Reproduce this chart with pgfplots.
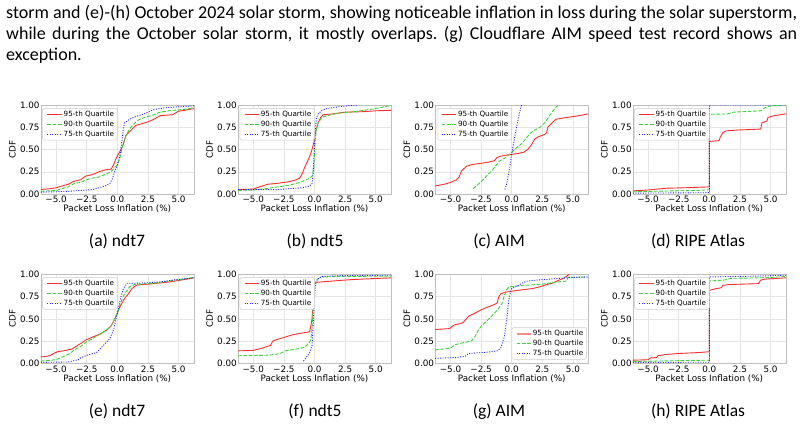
\documentclass[border=0pt]{standalone}
\usepackage{fontspec}
\usepackage{pgfplots}
\pgfplotsset{compat=1.18}
\newfontfamily\plotfont{DejaVu Sans}
\newfontfamily\capfont{Carlito}
\definecolor{qred}{RGB}{255,45,45}
\definecolor{qgreen}{RGB}{60,210,60}
\definecolor{qblue}{RGB}{35,35,255}

\pgfplotsset{
  cdfax/.style={
    scale only axis, width=153pt, height=89pt, anchor=south west,
    xmin=-6.25, xmax=6.25, ymin=0, ymax=1,
    xtick={-5,-2.5,0,2.5,5}, xticklabels={−5.0,−2.5,0.0,2.5,5.0},
    ytick={0,0.25,0.5,0.75,1}, yticklabels={0.00,0.25,0.50,0.75,1.00},
    major tick length=0pt,
    tick label style={font=\plotfont\fontsize{8.8}{9}\selectfont},
    xticklabel style={inner ysep=2pt},
    yticklabel style={inner xsep=1pt},
    grid=major, major grid style={black!10, line width=0.5pt},
    axis line style={black!25, line width=0.6pt},
    xlabel={Packet Loss Inflation (\%)}, ylabel={CDF},
    label style={font=\plotfont\fontsize{8.8}{9}\selectfont},
    xlabel style={at={(axis description cs:0.5,0)}, anchor=base, yshift=-17.7pt},
    ylabel style={at={(axis description cs:0,0.5)}, anchor=center, yshift=28.4pt},
  },
}
\tikzset{
  q95/.style={qred, line width=0.9pt},
  q90/.style={qgreen, line width=0.9pt, dash pattern=on 3.7pt off 1.6pt},
  q75/.style={qblue, line width=0.9pt, dash pattern=on 1pt off 1.5pt},
  legbox/.style={black!20, line width=0.5pt, fill=white, rounded corners=1.5pt},
  legtext/.style={anchor=west, inner sep=0pt, font=\plotfont\fontsize{7.2}{8}\selectfont},
}

% key in the upper left corner of a panel; #1 = share of the series colour (own tint per panel)
\newcommand\keyTL[1][100]{%
  \draw[legbox] ([shift={(1.9pt,-3.3pt)}]rel axis cs:0,1) rectangle ([shift={(76.5pt,-35pt)}]rel axis cs:0,1);
  \addplot[q95, qred!#1!white, forget plot] coordinates {(-5.719,0.8955) (-4.5425,0.8955)};
  \addplot[q90, qgreen!#1!white, forget plot] coordinates {(-5.719,0.7843) (-4.5425,0.7843)};
  \addplot[q75, qblue!#1!white, forget plot] coordinates {(-5.719,0.6730) (-4.5425,0.6730)};
  \node[legtext] at ([shift={(22.7pt,-9.3pt)}]rel axis cs:0,1) {95-th Quartile};
  \node[legtext] at ([shift={(22.7pt,-19.2pt)}]rel axis cs:0,1) {90-th Quartile};
  \node[legtext] at ([shift={(22.7pt,-29.1pt)}]rel axis cs:0,1) {75-th Quartile};
}
% key in the lower right corner of a panel
\newcommand\keyBR[1][100]{%
  \draw[legbox] ([shift={(-76.3pt,35.7pt)}]rel axis cs:1,0) rectangle ([shift={(-1.7pt,4pt)}]rel axis cs:1,0);
  \addplot[qred!55, line width=2pt, forget plot] coordinates {(0.392,0.3326) (1.569,0.3326)};
  \addplot[q90, qgreen!#1!white, forget plot] coordinates {(0.392,0.2213) (1.569,0.2213)};
  \addplot[q75, qblue!#1!white, forget plot] coordinates {(0.392,0.1101) (1.569,0.1101)};
  \node[legtext] at ([shift={(-55.5pt,29.6pt)}]rel axis cs:1,0) {95-th Quartile};
  \node[legtext] at ([shift={(-55.5pt,19.7pt)}]rel axis cs:1,0) {90-th Quartile};
  \node[legtext] at ([shift={(-55.5pt,9.8pt)}]rel axis cs:1,0) {75-th Quartile};
}

\begin{document}
\frenchspacing
\begin{tikzpicture}
\path[use as bounding box] (0,0) rectangle (803pt,432pt);

% caption text above the figure
\begin{scope}[every node/.style={anchor=base west, inner sep=0pt, font=\capfont\fontsize{18}{19}\selectfont}]
\node at (6pt,413.7pt) {\makebox[791pt][s]{storm and (e)-(h) October 2024 solar storm, showing noticeable inflation in loss during the solar superstorm,}};
\node at (6pt,392.7pt) {\makebox[791pt][s]{while during the October solar storm, it mostly overlaps. (g) Cloudflare AIM speed test record shows an}};
\node at (6pt,371pt) {exception.};
\end{scope}

% sub-captions
\begin{scope}[every node/.style={anchor=base, inner sep=0pt, font=\capfont\fontsize{17.5}{19}\selectfont}]
\node at (117pt,186pt) {(a) ndt7};
\node at (315pt,186pt) {(b) ndt5};
\node at (499pt,186pt) {(c) AIM};
\node at (698pt,186pt) {(d) RIPE Atlas};
\node at (117pt,16pt) {(e) ndt7};
\node at (315pt,16pt) {(f) ndt5};
\node at (499pt,16pt) {(g) AIM};
\node at (698pt,16pt) {(h) RIPE Atlas};
\end{scope}

% (a) ndt7, May 2024
\begin{axis}[cdfax, at={(40.8pt,238pt)}]
\addplot[q95] coordinates {(-6.25,0.05) (-5.5,0.06) (-5,0.07) (-4.5,0.09) (-4,0.11) (-3.6,0.14) (-3,0.16) (-2.6,0.20) (-2,0.22) (-1.5,0.25) (-1,0.27) (-0.5,0.28) (-0.3,0.33) (-0.1,0.40) (0.1,0.45) (0.3,0.50) (0.5,0.56) (0.7,0.66) (1.0,0.70) (1.5,0.77) (2.0,0.79) (2.5,0.81) (3.0,0.84) (3.5,0.88) (4.5,0.89) (5.0,0.93) (5.5,0.94) (6.25,0.96)};
\addplot[q90] coordinates {(-6.25,0.03) (-5,0.04) (-4.5,0.06) (-4,0.08) (-3.5,0.12) (-3,0.13) (-2.5,0.16) (-2,0.18) (-1.5,0.19) (-1,0.22) (-0.5,0.25) (-0.2,0.30) (0,0.33) (0.2,0.40) (0.4,0.52) (0.6,0.62) (0.8,0.68) (1.0,0.73) (1.3,0.78) (1.7,0.83) (2.2,0.86) (3,0.89) (3.5,0.92) (4.5,0.94) (5.5,0.95) (6.25,0.97)};
\addplot[q75] coordinates {(-6.25,0.02) (-4,0.03) (-3,0.04) (-2,0.05) (-1.5,0.07) (-1,0.09) (-0.6,0.12) (-0.4,0.17) (-0.2,0.26) (0,0.32) (0.2,0.42) (0.4,0.62) (0.5,0.74) (0.6,0.80) (1.0,0.84) (1.5,0.87) (2.0,0.89) (2.5,0.92) (3.0,0.95) (4.0,0.97) (5.0,0.98) (6.25,0.99)};
\keyTL
\end{axis}

% (b) ndt5, May 2024
\begin{axis}[cdfax, at={(238pt,238pt)}]
\addplot[q95] coordinates {(-6.25,0.05) (-5,0.055) (-4.5,0.08) (-3.8,0.11) (-3,0.12) (-2,0.14) (-1.5,0.16) (-1.2,0.18) (-1.0,0.23) (-0.8,0.30) (-0.6,0.36) (-0.4,0.42) (-0.2,0.50) (-0.05,0.58) (0.1,0.70) (0.3,0.80) (0.5,0.86) (0.7,0.89) (1.5,0.90) (2.5,0.92) (4,0.925) (5,0.935) (6.25,0.94)};
\addplot[q90] coordinates {(-6.25,0.04) (-5,0.045) (-4,0.06) (-3,0.08) (-2,0.10) (-1,0.14) (-0.5,0.17) (-0.2,0.20) (-0.05,0.30) (0.05,0.60) (0.15,0.72) (0.3,0.80) (0.6,0.86) (1.0,0.88) (2,0.91) (3,0.92) (4,0.94) (5,0.96) (6.25,0.995)};
\addplot[q75] coordinates {(-6.25,0.05) (-3,0.05) (-1,0.07) (-0.4,0.09) (-0.2,0.12) (-0.1,0.25) (0,0.55) (0.05,0.70) (0.15,0.85) (0.3,0.90) (0.6,0.94) (1,0.96) (2,0.98) (3,0.995) (3.5,1.0)};
\keyTL
\end{axis}

% (c) AIM, May 2024
\begin{axis}[cdfax, at={(435.2pt,238pt)}]
\addplot[q95] coordinates {(-6.25,0.09) (-5.5,0.11) (-5,0.13) (-4.5,0.16) (-4.3,0.19) (-4.1,0.26) (-3.7,0.31) (-3.3,0.33) (-2.5,0.345) (-1.8,0.36) (-1.4,0.375) (-1.2,0.41) (-0.9,0.425) (-0.3,0.44) (0.5,0.455) (1.0,0.47) (1.3,0.50) (1.6,0.55) (1.9,0.62) (2.2,0.645) (2.7,0.67) (2.85,0.69) (2.95,0.75) (3.3,0.80) (3.6,0.84) (4.5,0.86) (5.5,0.88) (6.25,0.90)};
\addplot[q90] coordinates {(-3.15,0.06) (-2.8,0.10) (-2.5,0.14) (-2.2,0.18) (-1.95,0.22) (-1.7,0.25) (-1.4,0.30) (-1.0,0.37) (-0.6,0.40) (-0.3,0.43) (0,0.47) (0.4,0.52) (0.85,0.57) (1.2,0.63) (1.5,0.68) (1.9,0.72) (2.3,0.75) (2.7,0.80) (3.0,0.86) (3.3,0.92) (3.5,0.96) (3.8,1.0)};
\addplot[q75] coordinates {(-0.55,0.05) (-0.4,0.12) (-0.3,0.20) (-0.15,0.31) (0,0.45) (0.1,0.53) (0.2,0.60) (0.35,0.72) (0.5,0.82) (0.65,0.92) (0.8,1.0)};
\keyTL
\end{axis}

% (d) RIPE Atlas, May 2024
\begin{axis}[cdfax, at={(632.8pt,238pt)}]
\addplot[q95] coordinates {(-6.25,0.035) (-5,0.045) (-4.3,0.055) (-3.5,0.065) (-2,0.07) (-1,0.075) (0,0.08) (0,0.59) (0.8,0.60) (0.9,0.64) (1.1,0.69) (1.4,0.71) (2.5,0.72) (3.5,0.725) (4.2,0.73) (4.3,0.80) (4.7,0.82) (4.8,0.86) (5.3,0.88) (6.25,0.90)};
\addplot[q90] coordinates {(-6.25,0.025) (-3,0.035) (-1,0.04) (0,0.048) (0,0.895) (1.5,0.90) (2.0,0.92) (4.2,0.935) (4.5,0.965) (5.0,0.99) (6.25,1.0)};
\addplot[q75] coordinates {(-6.25,0.01) (-3,0.012) (0,0.015) (0,1.0) (6.25,1.0)};
\keyTL
\end{axis}

% (e) ndt7, October 2024
\begin{axis}[cdfax, at={(40.8pt,68.7pt)}]
\addplot[q95] coordinates {(-6.25,0.07) (-5.5,0.085) (-5.2,0.11) (-4.9,0.13) (-4.4,0.14) (-3.7,0.16) (-3.2,0.205) (-2.9,0.23) (-2.6,0.26) (-2.1,0.29) (-1.4,0.33) (-0.9,0.37) (-0.5,0.42) (-0.2,0.50) (0.2,0.63) (0.6,0.73) (0.9,0.78) (1.2,0.84) (1.6,0.88) (2.6,0.89) (4.0,0.91) (5.0,0.93) (6.25,0.96)};
\addplot[q90] coordinates {(-6.25,0.025) (-5,0.04) (-4.5,0.07) (-4,0.10) (-3.5,0.15) (-3,0.19) (-2.5,0.24) (-2,0.28) (-1.5,0.32) (-1,0.36) (-0.5,0.42) (-0.2,0.50) (0,0.56) (0.2,0.65) (0.5,0.76) (0.8,0.82) (1.0,0.86) (1.5,0.89) (2,0.89) (3,0.90) (4,0.92) (5,0.94) (6.25,0.965)};
\addplot[q75] coordinates {(-6.25,0.01) (-4,0.015) (-3.2,0.04) (-3,0.06) (-2.5,0.09) (-2,0.11) (-1.7,0.12) (-1.5,0.15) (-1,0.22) (-0.6,0.28) (-0.3,0.38) (-0.1,0.50) (0.1,0.62) (0.3,0.75) (0.5,0.84) (0.8,0.90) (1.5,0.90) (2.5,0.905) (3.5,0.915) (4.5,0.935) (6.25,0.96)};
\keyTL[99]
\end{axis}

% (f) ndt5, October 2024
\begin{axis}[cdfax, at={(238pt,68.7pt)}]
\addplot[q95] coordinates {(-6.25,0.14) (-5,0.145) (-4.3,0.17) (-3.6,0.20) (-3.4,0.25) (-3.0,0.27) (-2.5,0.29) (-1.8,0.32) (-1.0,0.34) (-0.4,0.355) (-0.3,0.42) (-0.2,0.50) (-0.1,0.78) (-0.05,0.89) (0.2,0.91) (1.5,0.925) (3,0.94) (4.5,0.95) (6.25,0.96)};
\addplot[q90] coordinates {(-6.25,0.085) (-4,0.09) (-3.2,0.10) (-2.8,0.11) (-2.4,0.14) (-1.5,0.16) (-0.8,0.18) (-0.5,0.22) (-0.35,0.25) (-0.25,0.32) (-0.15,0.50) (-0.1,0.75) (0,0.88) (0.2,0.94) (0.5,0.97) (2,0.975) (6.25,0.98)};
\addplot[q75] coordinates {(-0.9,0.025) (-0.6,0.08) (-0.4,0.12) (-0.2,0.20) (-0.1,0.45) (0,0.75) (0.1,0.90) (0.3,0.95) (0.6,0.975) (2,0.985) (6.25,0.99)};
\keyTL[98]
\end{axis}

% (g) AIM, October 2024
\begin{axis}[cdfax, at={(435.2pt,68.7pt)}]
\addplot[q95] coordinates {(-6.25,0.38) (-5.1,0.39) (-4.7,0.43) (-4.0,0.455) (-3.7,0.50) (-3.5,0.53) (-3.05,0.56) (-2.5,0.60) (-2.0,0.63) (-1.5,0.655) (-1.2,0.675) (-1.05,0.75) (-0.9,0.78) (-0.5,0.80) (0,0.81) (0.8,0.825) (1.7,0.84) (2.3,0.86) (2.75,0.88) (3.3,0.90) (3.8,0.93) (4.3,0.96) (4.7,1.0)};
\addplot[q90] coordinates {(-6.25,0.15) (-5,0.17) (-4.6,0.21) (-4,0.23) (-3.3,0.25) (-3,0.30) (-2.7,0.38) (-2.4,0.43) (-2,0.48) (-1.5,0.55) (-1.1,0.61) (-0.8,0.67) (-0.6,0.76) (-0.4,0.83) (-0.2,0.86) (0.5,0.87) (1.5,0.88) (2.5,0.89) (3.5,0.91) (4.5,0.925) (4.6,0.965) (6.25,0.97)};
\addplot[q75] coordinates {(-6.25,0.056) (-4.5,0.065) (-3.8,0.08) (-3.5,0.11) (-3,0.115) (-2,0.125) (-1.2,0.14) (-0.9,0.17) (-0.6,0.30) (-0.4,0.50) (-0.25,0.70) (-0.1,0.80) (0,0.84) (0.5,0.87) (0.8,0.90) (1.3,0.925) (2,0.935) (3,0.945) (4,0.955) (5,0.965) (6.25,0.97)};
\keyBR[97]
\end{axis}

% (h) RIPE Atlas, October 2024
\begin{axis}[cdfax, at={(632.8pt,68.7pt)}]
\addplot[q95] coordinates {(-6.25,0.035) (-5,0.04) (-4.8,0.06) (-4.3,0.065) (-4.2,0.085) (-3.5,0.10) (-2.5,0.11) (-1,0.12) (0,0.13) (0,0.82) (0.6,0.84) (1.0,0.85) (1.1,0.875) (1.6,0.885) (4,0.895) (4.2,0.935) (4.5,0.945) (5,0.95) (6.25,0.96)};
\addplot[q90] coordinates {(-6.25,0.02) (-4.5,0.025) (0,0.035) (0,0.925) (1.2,0.935) (1.8,0.955) (4,0.96) (5,0.965) (6.25,0.975)};
\addplot[q75] coordinates {(-6.25,0.01) (0,0.012) (0,0.97) (4,0.98) (6.25,0.99)};
\keyTL[96]
\end{axis}
\end{tikzpicture}
\end{document}
